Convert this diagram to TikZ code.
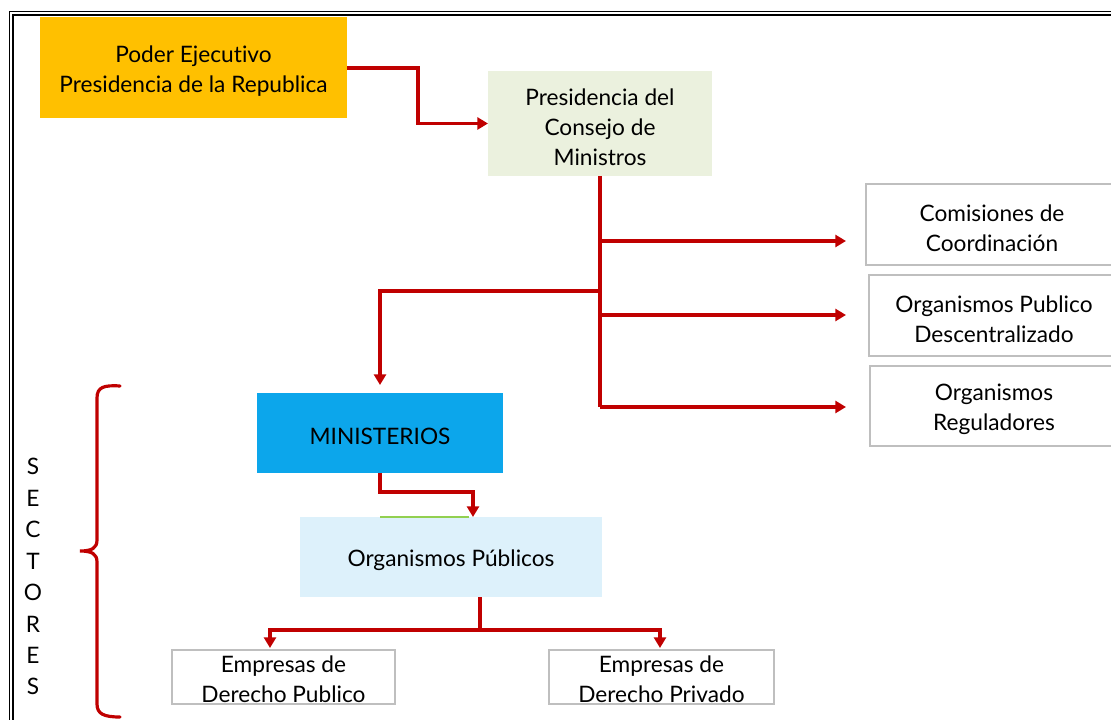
\documentclass[tikz,border=0pt]{standalone}
\usepackage{fontspec}
\setmainfont{Lato}[Ligatures={NoCommon}]
\usetikzlibrary{arrows.meta,calc}
\definecolor{gold}{HTML}{FFC000}
\definecolor{pcmgreen}{HTML}{EBF1DE}
\definecolor{minblue}{HTML}{0CA6EB}
\definecolor{oplight}{HTML}{DDF1FB}
\definecolor{darkred}{HTML}{C00000}
\definecolor{boxgray}{HTML}{BFBFBF}
\definecolor{lgreen}{HTML}{92D050}
\tikzset{
  boxshape/.style={inner sep=0pt, outer sep=0pt},
  txt/.style={inner sep=0pt, align=center, font=\fontsize{17}{22.5}\selectfont, yshift=-2.5pt},
  graybox/.style={boxshape, draw=boxgray, line width=1.5pt, fill=white},
  redline/.style={draw=darkred, line width=2.4pt},
  arr/.style={redline, -{Triangle[length=8pt,width=9pt]}},
}
\begin{document}
\begin{tikzpicture}[x=0.75pt,y=-0.75pt]
\useasboundingbox (0,0) rectangle (1111,720);
\fill[white] (0,0) rectangle (1111,720);
% frame
\draw[black, line width=0.9pt] (9.5,11.5) rectangle (1130,740);
\draw[black, line width=0.9pt] (13,15) rectangle (1126,736);

% boxes
\node[boxshape, fill=gold, minimum width=307*0.75pt, minimum height=101*0.75pt] (poder) at (193.5,67.5) {};
\node[txt] (poderT) at (poder.center) {Poder Ejecutivo\\Presidencia de la Republica};

\node[boxshape, fill=pcmgreen, minimum width=224*0.75pt, minimum height=105*0.75pt] (pcm) at (600,123.5) {};
\node[txt] (pcmT) at (pcm.center) {Presidencia del\\Consejo de\\Ministros};

\node[graybox, minimum width=252*0.75pt, minimum height=81*0.75pt] (com) at (992,224.5) {};
\node[txt] (comT) at (com.center) {Comisiones de\\Coordinación};

\node[graybox, minimum width=250*0.75pt, minimum height=81*0.75pt] (opd) at (994,315.5) {};
\node[txt] (opdT) at (opd.center) {Organismos Publico\\Descentralizado};

\node[graybox, minimum width=248*0.75pt, minimum height=80*0.75pt] (reg) at (994,406) {};
\node[txt] (regT) at (reg.center) {Organismos\\Reguladores};

\node[boxshape, fill=minblue, minimum width=246*0.75pt, minimum height=80*0.75pt] (min) at (380,433) {};
\node[txt] (minT) at (min.center) {MINISTERIOS};

\node[boxshape, fill=oplight, minimum width=302*0.75pt, minimum height=80*0.75pt] (op) at (451,557) {};
\node[txt] (opT) at (op.center) {Organismos Públicos};

\node[graybox, minimum width=223*0.75pt, minimum height=54*0.75pt] (epub) at (283.5,677) {};
\node[txt, yshift=1pt] (epubT) at (epub.center) {Empresas de\\Derecho Publico};

\node[graybox, minimum width=225*0.75pt, minimum height=54*0.75pt] (epriv) at (661.5,677) {};
\node[txt, yshift=1pt] (eprivT) at (epriv.center) {Empresas de\\Derecho Privado};

% connectors
\coordinate (j1) at (418,90);
\draw[arr] (poder.east |- 0,68) -| (j1) |- (pcm.west);

\coordinate (tb) at (600,407);
\coordinate (b1) at (600,241);
\coordinate (b2) at (600,315);
\coordinate (bl) at (600,291);
\draw[redline] (pcm.south) -- (tb);
\draw[arr] (b1) -- ([xshift=-20*0.75pt]b1 -| com.west);
\draw[arr] (b2) -- ([xshift=-23*0.75pt]b2 -| opd.west);
\draw[arr] (tb) -- ([xshift=-24*0.75pt]tb -| reg.west);
\draw[arr, shorten >=8*0.75pt] (bl) -| (min.north);

\coordinate (m1) at (473,492);
\draw[arr] (min.south) |- (m1) -- (m1 |- op.north);
\draw[lgreen, line width=0.9pt] (min.south |- op.north) -- ([xshift=-3pt]m1 |- op.north);

\coordinate (oj) at (480,630);
\draw[redline] (op.south -| oj) -- (oj);
\draw[arr, shorten >=2*0.75pt] (oj) -| (270,650);
\draw[arr, shorten >=2*0.75pt] (oj) -| (660,650);

% brace
\draw[darkred, line width=2.4pt, line cap=round]
  (120,386) .. controls (104,385) and (97,387) .. (97,398)
  -- (97,540) .. controls (97,548) and (92,551) .. (80,551)
  .. controls (92,551) and (97,554) .. (97,562)
  -- (97,704) .. controls (97,714) and (104,717) .. (120,717);

% SECTORES
\node[inner sep=0pt, align=center, font=\fontsize{17}{23.6}\selectfont, anchor=north] (sect) at (33,458) {S\\E\\C\\T\\O\\R\\E\\S};
\end{tikzpicture}
\end{document}
